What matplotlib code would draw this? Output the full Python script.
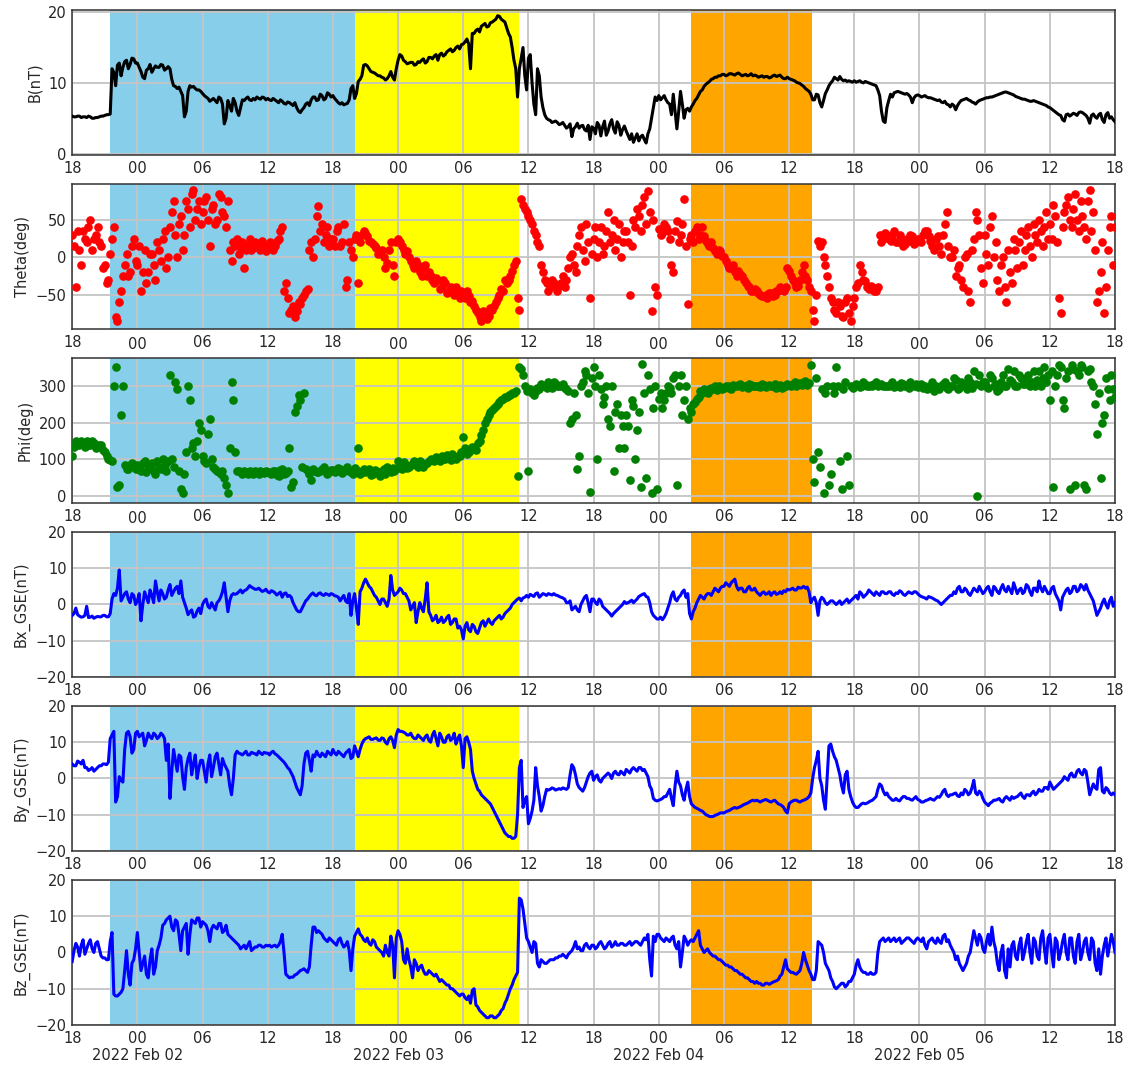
#!/usr/bin/env python3

# Overview of the interplanetary magnetic field, 2022 Feb 01 18:00 - Feb 05 18:00.
# Each series is read at 20 minute steps (the *_on lists, from 18:00) and at
# the 10 minute points in between (the *_off lists, from 18:10).
# Every row below is one 3 hour block of 9 samples.

import matplotlib
matplotlib.use("Agg")
import matplotlib.dates as mdates
import matplotlib.pyplot as plt
import numpy as np
import pandas as pd

START = "2022-02-01 18:00"
END = "2022-02-05 18:00"
STEP = "20min"

# Shaded event intervals
region_starts = ["2022-02-01 21:30", "2022-02-02 20:00", "2022-02-04 03:00"]
region_ends = ["2022-02-02 20:00", "2022-02-03 11:10", "2022-02-04 14:05"]

b_on = [
    5.3, 5.2, 5.3, 5.2, 5.1, 5.2, 5.0, 5.1, 5.3,
    5.4, 5.5, 12.0, 9.6, 12.8, 12.2, 13.2, 12.6, 13.4,
    12.8, 11.6, 10.6, 12.0, 11.5, 12.4, 12.2, 12.5, 12.0,
    12.0, 9.6, 9.2, 8.8, 5.2, 8.8, 9.4, 9.2, 9.0,
    8.5, 8.0, 7.4, 7.8, 7.2, 7.8, 4.2, 7.5, 6.0,
    7.2, 5.4, 7.6, 7.8, 7.6, 7.8, 8.0, 7.7, 7.9,
    7.8, 7.5, 7.6, 7.2, 7.4, 7.0, 7.2, 6.8, 6.5,
    5.8, 6.5, 7.2, 7.6, 8.0, 7.6, 8.2, 7.8, 8.4,
    8.2, 7.5, 7.0, 6.9, 7.1, 9.2, 7.8, 10.2, 11.0,
    12.6, 12.0, 11.5, 11.2, 11.0, 10.7, 10.6, 11.6, 10.4,
    13.2, 13.8, 13.0, 12.8, 12.9, 12.6, 12.9, 13.4, 13.0,
    13.6, 13.8, 13.2, 14.2, 14.0, 14.6, 14.4, 15.0, 14.8,
    15.5, 16.2, 12.0, 17.0, 17.6, 18.0, 18.4, 18.0, 18.6,
    19.0, 19.4, 18.8, 17.8, 16.5, 13.2, 8.0, 13.5, 11.0,
    13.5, 10.0, 5.5, 11.0, 6.5, 5.0, 4.7, 4.5, 4.4,
    4.2, 4.0, 3.8, 2.4, 3.8, 3.6, 4.0, 3.2, 2.0,
    3.6, 4.4, 2.5, 4.6, 3.2, 4.8, 2.9, 4.0, 3.4,
    3.2, 2.0, 1.6, 2.8, 2.4, 2.0, 2.8, 5.0, 8.0,
    8.2, 7.9, 7.6, 7.0, 8.4, 3.5, 8.8, 5.0, 6.4,
    6.6, 7.5, 8.3, 9.0, 9.8, 10.2, 10.6, 10.8, 11.0,
    11.2, 11.1, 11.3, 11.1, 11.4, 11.0, 11.2, 11.1, 11.0,
    11.0, 10.9, 10.8, 10.9, 10.8, 11.1, 11.0, 10.8, 10.6,
    10.6, 10.4, 10.1, 9.9, 9.5, 9.0, 8.4, 7.6, 8.3,
    6.6, 8.5, 9.6, 10.3, 10.6, 10.9, 10.3, 10.2, 10.2,
    10.3, 10.2, 10.1, 10.2, 10.0, 9.8, 9.6, 8.2, 4.6,
    6.5, 8.4, 8.6, 8.8, 8.6, 8.4, 8.3, 7.2, 8.2,
    8.2, 8.1, 8.0, 7.9, 7.7, 7.5, 7.3, 7.4, 6.9,
    7.0, 6.2, 7.2, 7.6, 7.8, 7.5, 7.2, 7.3, 7.6,
    7.8, 7.9, 8.0, 8.2, 8.4, 8.6, 8.7, 8.5, 8.3,
    8.0, 7.8, 7.7, 7.5, 7.4, 7.4, 7.2, 7.0, 6.8,
    6.5, 6.1, 5.7, 5.4, 4.6, 5.6, 5.5, 5.6, 5.8,
    5.8, 5.4, 4.3, 5.6, 5.0, 5.7, 4.4, 5.8, 5.2,
    4.5,
]
b_off = [
    5.2, 5.3, 5.1, 5.2, 5.3, 5.0, 5.1, 5.2, 5.3,
    5.5, 5.6, 11.5, 12.5, 11.0, 13.0, 12.0, 13.5, 12.8,
    12.2, 10.8, 11.8, 12.6, 12.0, 12.2, 12.6, 11.8, 12.3,
    10.5, 9.5, 9.4, 8.2, 6.0, 9.6, 9.5, 9.0, 8.8,
    8.2, 7.8, 7.6, 7.5, 8.0, 7.0, 5.0, 6.8, 7.8,
    6.0, 6.5, 7.5, 8.0, 7.5, 7.6, 7.8, 8.0, 7.6,
    7.6, 7.8, 7.4, 7.6, 7.1, 7.3, 7.0, 7.2, 6.0,
    6.2, 7.0, 6.8, 8.0, 7.5, 8.4, 7.6, 8.6, 8.0,
    7.8, 7.2, 7.2, 7.0, 7.6, 9.6, 8.5, 10.5, 12.5,
    12.4, 11.6, 11.4, 11.0, 10.8, 10.4, 11.0, 10.8, 12.0,
    14.0, 13.2, 12.7, 12.9, 12.5, 13.0, 13.2, 12.8, 13.6,
    13.4, 14.0, 14.0, 13.8, 14.4, 14.8, 14.6, 15.2, 15.4,
    15.8, 15.5, 17.0, 17.4, 17.2, 18.2, 17.9, 18.5, 18.8,
    19.5, 19.0, 18.6, 17.0, 15.0, 12.0, 12.0, 15.0, 9.0,
    14.0, 7.0, 12.0, 8.0, 5.5, 4.8, 4.4, 4.6, 4.1,
    4.4, 3.6, 4.2, 3.5, 4.3, 3.9, 3.4, 4.0, 3.8,
    2.8, 4.0, 3.8, 2.6, 4.2, 3.5, 4.5, 2.6, 3.9,
    2.6, 2.8, 2.2, 1.8, 2.6, 1.5, 3.5, 6.5, 7.5,
    7.6, 8.2, 7.2, 5.5, 6.0, 6.0, 7.0, 6.2, 6.0,
    7.0, 7.8, 8.8, 9.5, 10.0, 10.5, 10.8, 11.0, 11.2,
    11.0, 11.3, 11.2, 11.3, 11.2, 11.1, 11.0, 11.3, 11.1,
    10.8, 11.0, 10.9, 10.7, 11.0, 10.9, 11.1, 10.6, 10.8,
    10.5, 10.3, 10.0, 9.7, 9.2, 8.8, 7.6, 8.4, 7.2,
    7.5, 9.0, 10.0, 10.8, 10.4, 10.5, 10.4, 10.3, 10.1,
    10.1, 10.3, 10.0, 10.1, 9.9, 9.7, 9.0, 6.0, 4.4,
    7.5, 8.0, 8.7, 8.7, 8.5, 8.5, 8.0, 7.9, 8.3,
    8.0, 8.2, 7.9, 7.8, 7.6, 7.6, 7.2, 7.0, 6.6,
    6.8, 6.8, 7.5, 7.7, 7.6, 7.3, 7.0, 7.5, 7.7,
    7.9, 8.0, 8.1, 8.3, 8.5, 8.7, 8.6, 8.4, 8.1,
    7.9, 7.7, 7.6, 7.4, 7.5, 7.3, 7.1, 6.9, 6.6,
    6.3, 5.9, 5.5, 4.8, 5.5, 5.3, 5.7, 5.4, 5.9,
    5.6, 5.0, 5.4, 5.2, 5.5, 4.8, 5.5, 5.0, 4.8,
]

theta_on = [
    30, -40, 10, 35, 20, 50, 25, 40, 15,
    -10, -30, 25, -80, -60, -25, 5, -20, 25,
    -10, -45, 10, -20, 5, -30, 10, 25, -15,
    40, 75, 0, 55, 30, 65, 85, 50, 75,
    60, 80, 15, 70, 50, 80, 55, 75, -5,
    15, 5, 20, 10, 25, 12, 18, 10, 15,
    12, 18, 15, 25, 40, -35, -75, -65, -72,
    -62, -50, -42, 20, 25, 68, 45, 30, 15,
    25, 35, 15, 45, -30, 10, 25, -35, 30,
    32, 22, 18, 12, 8, 0, -8, 20, -25,
    25, 15, 5, 0, -10, -5, -20, -15, -25,
    -25, -35, -30, -40, -35, -45, -45, -40, -55,
    -50, -45, -60, -65, -75, -85, -75, -78, -70,
    -60, -50, -45, -35, -25, -10, -55, 78, 65,
    55, 45, 30, 15, -20, -35, -40, -35, -45,
    -35, -40, -15, 5, -20, 30, 10, 45, -55,
    25, 0, 40, 15, 60, 30, 10, 45, 20,
    35, -50, 50, 65, 35, 80, 88, -72, -40,
    38, 32, 40, 25, -20, 48, 30, 78, -62,
    30, 35, 25, 40, 22, 15, 12, 5, 8,
    0, -10, -15, -20, -18, -25, -35, -40, -45,
    -45, -50, -52, -55, -48, -50, -45, -42, -40,
    -18, -30, -40, -30, -10, -30, -45, -85, 22,
    20, -10, -40, -60, -75, -65, -80, -55, -85,
    -55, -35, -20, -32, -42, -40, -45, 30, 25,
    30, 22, 35, 20, 25, 18, 22, 28, 20,
    25, 30, 35, 22, 10, 28, 5, 45, 15,
    0, -25, -10, -40, 5, -60, 25, 50, -15,
    30, -10, 55, 20, -45, 0, -60, -20, 25,
    -15, 35, 10, 40, 0, 30, 50, 15, 60,
    45, 70, 20, -75, 60, 80, 40, 85, 35,
    55, 25, 90, 60, -60, -20, -75, 10, 55,
    40,
]
theta_off = [
    15, 35, -10, 25, 40, 10, 30, 20, -15,
    -35, 5, 40, -85, -45, -10, -25, 15, -5,
    15, -20, -35, 5, -10, 20, -5, 35, 0,
    60, 30, 45, 10, 75, 40, 90, 65, 45,
    75, 50, 65, 45, 85, 60, 40, 10, 20,
    25, 12, -15, 18, 10, 20, 15, 22, 8,
    20, 10, 22, 35, -45, -55, -70, -80, -60,
    -55, -45, 10, 0, 55, 35, 20, 40, 25,
    15, 40, 20, -40, 20, 0, 30, 20, 35,
    28, 20, 15, 5, 10, -15, 10, -10, 20,
    20, 10, 8, -5, -15, -10, -25, -10, -20,
    -30, -28, -42, -30, -48, -40, -50, -48, -45,
    -55, -52, -58, -70, -80, -72, -82, -68, -65,
    -55, -42, -30, -30, -18, -5, -70, 70, 60,
    50, 35, 20, -10, -30, -45, -30, -40, -38,
    -25, -30, 0, -10, 15, 40, -5, 20, 5,
    40, 20, 5, 35, 20, 50, 25, 0, 35,
    20, 15, 40, 55, 70, 45, 60, 50, -50,
    30, 45, 35, -10, 35, 20, 45, 15, 25,
    20, 40, 30, 28, 18, 20, 8, 10, 2,
    -5, -15, -10, -25, -22, -30, -38, -45, -42,
    -48, -52, -50, -48, -52, -45, -40, -45, -15,
    -25, -35, -38, -20, -25, -40, -70, -50, 15,
    0, -25, -55, -70, -60, -78, -60, -75, -65,
    -40, -10, -30, -40, -38, -45, -40, 20, 32,
    25, 28, 20, 30, 15, 25, 30, 18, 25,
    20, 35, 28, 15, 25, 15, 30, 60, 0,
    10, -15, -30, 0, -45, 10, 60, 30, -35,
    5, 40, 0, -30, -10, -40, 10, -35, 10,
    20, -10, 30, 15, 45, 20, 35, 40, 25,
    25, 55, -55, 40, 70, 50, 65, 50, 75,
    40, 75, 35, 10, -45, 20, -40, 40, -10,
]

phi_on = [
    110, 150, 140, 145, 150, 140, 145, 135, 138,
    120, 100, 95, 350, 30, 300, 75, 85, 80,
    85, 70, 95, 75, 90, 60, 80, 100, 70,
    330, 80, 290, 20, 60, 300, 130, 110, 200,
    110, 90, 210, 80, 70, 60, 50, 10, 310,
    120, 70, 60, 65, 70, 60, 65, 70, 62,
    65, 60, 70, 55, 75, 62, 130, 40, 245,
    260, 280, 70, 45, 70, 65, 75, 70, 65,
    72, 68, 75, 70, 80, 65, 78, 130, 70,
    65, 75, 60, 70, 55, 75, 80, 65, 70,
    95, 75, 85, 80, 90, 85, 95, 80, 90,
    100, 95, 105, 110, 100, 105, 115, 100, 110,
    160, 115, 125, 130, 145, 165, 200, 220, 235,
    245, 255, 265, 270, 275, 280, 55, 345, 300,
    70, 280, 285, 290, 300, 295, 305, 310, 300,
    300, 295, 285, 210, 220, 110, 310, 330, 12,
    350, 100, 290, 270, 210, 300, 230, 130, 190,
    220, 45, 245, 180, 25, 280, 330, 10, 300,
    265, 240, 280, 295, 320, 30, 330, 260, 210,
    230, 255, 270, 280, 285, 290, 292, 288, 295,
    295, 298, 292, 300, 302, 296, 300, 305, 298,
    300, 296, 302, 298, 300, 304, 298, 295, 300,
    302, 305, 300, 308, 310, 302, 355, 40, 120,
    290, 280, 30, 300, 350, 95, 290, 110, 300,
    298, 302, 300, 305, 298, 300, 310, 302, 298,
    300, 305, 296, 302, 308, 300, 295, 302, 305,
    300, 295, 290, 300, 285, 295, 300, 310, 290,
    300, 315, 295, 305, 290, 310, 340, 0, 300,
    310, 295, 320, 305, 290, 330, 300, 315, 340,
    300, 320, 305, 330, 310, 300, 340, 320, 310,
    260, 25, 330, 350, 240, 340, 355, 30, 330,
    350, 20, 345, 300, 170, 50, 220, 290, 330,
    270,
]
phi_off = [
    135, 145, 150, 135, 140, 150, 130, 140, 125,
    110, 98, 300, 25, 220, 85, 75, 90, 75,
    75, 90, 65, 85, 70, 95, 75, 85, 95,
    100, 310, 70, 10, 120, 260, 145, 150, 180,
    95, 170, 100, 75, 65, 70, 30, 130, 260,
    70, 65, 70, 60, 62, 68, 60, 66, 70,
    62, 68, 58, 72, 60, 70, 25, 230, 275,
    80, 75, 60, 75, 65, 70, 80, 60, 72,
    65, 78, 62, 75, 70, 60, 72, 60, 75,
    70, 58, 72, 65, 70, 60, 72, 78, 75,
    80, 92, 78, 85, 95, 80, 90, 88, 95,
    98, 108, 95, 100, 112, 98, 108, 110, 120,
    130, 120, 135, 125, 150, 180, 210, 230, 240,
    250, 260, 270, 275, 280, 285, 350, 330, 285,
    290, 275, 295, 305, 300, 310, 295, 305, 300,
    305, 290, 200, 280, 75, 300, 340, 280, 320,
    300, 330, 250, 300, 190, 70, 250, 220, 130,
    190, 260, 100, 230, 360, 50, 290, 240, 20,
    280, 260, 300, 280, 330, 300, 220, 300, 240,
    250, 265, 285, 290, 280, 295, 298, 300, 292,
    300, 295, 302, 298, 305, 300, 295, 302, 300,
    298, 305, 296, 302, 298, 295, 302, 300, 305,
    300, 310, 305, 302, 312, 308, 100, 320, 80,
    10, 300, 60, 280, 300, 20, 310, 30, 295,
    305, 296, 310, 300, 302, 305, 298, 305, 300,
    298, 310, 300, 296, 305, 298, 310, 300, 296,
    305, 300, 295, 310, 300, 290, 305, 295, 300,
    320, 290, 310, 300, 320, 295, 305, 330, 310,
    300, 330, 300, 285, 310, 300, 345, 310, 300,
    330, 305, 320, 300, 340, 315, 300, 350, 330,
    340, 300, 355, 260, 320, 20, 345, 340, 355,
    30, 340, 310, 250, 280, 200, 320, 260, 290,
]

bx_on = [
    -3.0, -1.0, -3.2, -3.4, -0.5, -3.5, -3.8, -3.3, -3.4,
    -3.0, -3.4, 1.5, 2.5, 9.5, 2.0, 3.5, 0.5, 2.5,
    1.0, -4.5, 3.5, 0.5, 2.5, 6.5, 1.0, 3.0, 2.0,
    5.5, 3.5, 5.0, 6.5, 0.5, -2.8, -1.5, -3.2, -1.0,
    0.0, 1.5, -1.0, -0.5, 0.5, 2.0, 6.0, -2.0, 2.5,
    2.8, 3.5, 3.2, 4.0, 5.2, 4.5, 4.2, 4.0, 3.8,
    3.5, 3.8, 3.2, 3.0, 2.0, 3.2, 2.5, 0.5, -1.5,
    -2.0, 0.0, 1.5, 2.8, 2.6, 3.0, 2.7, 3.0, 2.5,
    2.8, 2.3, 1.0, 2.5, 0.5, -3.0, 3.0, -5.5, 4.5,
    7.0, 5.0, 3.5, 2.0, 0.0, 1.5, -0.5, 8.0, 2.5,
    3.5, 4.0, 3.0, 1.0, -0.5, -5.0, 0.5, -2.0, 6.0,
    -3.0, -4.0, -5.0, -3.5, -4.5, -3.0, -5.0, -4.0, -6.0,
    -9.5, -5.0, -7.5, -6.0, -8.0, -5.0, -6.0, -4.0, -5.5,
    -4.0, -3.0, -3.5, -2.0, -1.0, 0.5, 1.5, 1.0, 2.0,
    2.0, 2.5, 3.0, 2.0, 3.0, 2.5, 2.8, 3.0, 2.5,
    2.0, 1.5, 0.5, -1.5, -0.5, -2.0, 1.0, 2.5, -2.0,
    1.5, 0.0, 1.0, -1.0, -2.0, -3.2, -2.0, -1.0, 0.0,
    0.3, 0.8, 0.5, 1.5, 2.5, 3.0, 2.0, -2.0, -3.5,
    -4.0, -4.2, -2.5, 0.5, 3.5, 1.0, 2.5, 4.0, 3.0,
    -4.0, -1.0, 1.5, 2.0, 2.5, 3.0, 3.5, 4.0, 4.5,
    5.0, 5.5, 6.0, 7.0, 4.0, 4.5, 3.5, 5.0, 4.0,
    3.5, 2.5, 3.5, 3.0, 2.5, 3.5, 3.0, 3.0, 3.5,
    4.0, 4.5, 4.0, 4.5, 5.0, 4.8, 0.5, 2.0, -3.0,
    2.0, 0.5, 0.5, 1.0, 0.0, 1.0, 0.5, 1.5, 1.0,
    2.0, 1.5, 3.0, 2.5, 4.0, 3.0, 3.5, 2.5, 3.5,
    3.0, 3.5, 2.5, 3.0, 3.5, 2.5, 3.5, 3.0, 3.5,
    2.5, 2.0, 1.5, 2.0, 1.5, 1.0, 0.0, 1.0, 2.0,
    2.5, 3.0, 5.0, 3.5, 4.0, 2.5, 4.5, 3.5, 4.0,
    3.5, 5.0, 2.5, 4.5, 3.0, 5.5, 3.5, 4.0, 6.0,
    3.0, 4.5, 3.5, 5.0, 2.5, 4.5, 6.5, 3.5, 4.0,
    3.0, 5.0, 2.0, -1.5, 3.0, 4.5, 3.5, 5.0, 4.0,
    5.0, 5.5, 3.0, 1.0, -3.0, -1.0, 1.5, -1.0, 2.0,
    0.5,
]
bx_off = [
    -2.5, -2.8, -3.5, -3.0, -3.6, -3.2, -3.5, -3.4, -3.0,
    -3.4, -2.5, 3.0, 4.5, 1.0, 3.0, 1.5, 3.0, 0.0,
    3.0, 0.0, 2.0, 4.0, 0.5, 3.5, 4.0, 1.5, 4.0,
    2.5, 4.5, 3.0, 2.0, -1.0, -2.0, -3.5, -1.8, -2.5,
    1.0, -0.5, 0.5, -1.5, 1.0, 3.5, 2.0, 1.0, 3.0,
    3.0, 4.0, 3.8, 4.5, 4.8, 4.2, 4.5, 3.6, 4.2,
    3.2, 3.6, 2.6, 3.4, 3.0, 2.2, 2.0, -0.5, -2.0,
    -1.0, 1.0, 2.2, 3.2, 2.4, 3.2, 2.5, 2.8, 3.0,
    2.4, 2.0, 1.8, 1.0, 3.0, 1.0, -1.0, 3.5, 6.0,
    6.0, 4.5, 2.5, 1.0, 1.5, 0.5, 1.5, 4.0, 3.0,
    4.5, 3.0, 2.0, -1.5, 0.5, -2.0, -1.0, 1.5, -2.0,
    -4.5, -3.0, -4.5, -5.0, -3.5, -5.5, -4.0, -6.5, -7.0,
    -6.0, -7.0, -5.5, -7.5, -6.5, -4.5, -5.0, -5.0, -4.5,
    -3.5, -4.0, -2.5, -1.5, 0.0, 1.0, 1.8, 1.8, 2.5,
    2.8, 2.2, 3.2, 2.5, 2.8, 3.0, 2.6, 2.6, 2.2,
    1.8, 0.5, 1.0, -1.0, -1.5, 0.0, 2.0, 0.5, 1.5,
    0.5, 1.5, -0.5, -1.5, -2.5, -2.5, -1.5, -0.5, 0.8,
    0.5, 1.2, 1.0, 2.2, 2.8, 2.2, 0.5, -3.0, -4.0,
    -3.5, -3.5, -1.0, 2.5, 1.5, 2.0, 3.5, 2.0, -2.5,
    -2.0, 0.5, 2.5, 1.5, 3.0, 2.5, 4.5, 3.5, 5.0,
    6.0, 5.0, 6.5, 5.0, 4.5, 3.5, 4.5, 4.0, 4.5,
    3.0, 3.2, 2.8, 3.5, 3.2, 2.8, 3.5, 3.8, 4.2,
    4.2, 4.0, 4.8, 4.6, 4.5, 3.5, 1.5, 0.5, 1.0,
    1.5, 0.0, 1.0, 0.5, 0.5, 0.0, 1.0, 0.5, 1.5,
    2.5, 3.5, 2.0, 3.0, 3.5, 2.5, 3.0, 3.5, 3.0,
    3.5, 2.8, 3.2, 3.8, 2.8, 3.0, 3.2, 3.5, 3.0,
    2.2, 1.8, 2.2, 1.8, 1.2, 0.5, 0.5, 1.5, 2.5,
    3.5, 4.5, 3.5, 4.5, 3.0, 3.5, 4.0, 5.0, 3.0,
    4.5, 3.5, 5.0, 3.5, 4.5, 4.0, 5.0, 3.0, 4.5,
    4.0, 3.0, 5.5, 3.5, 4.5, 3.5, 4.5, 5.0, 3.0,
    4.5, 3.0, 1.0, 2.0, 4.0, 3.0, 5.0, 3.5, 5.5,
    4.0, 4.0, 2.0, -1.0, -2.0, 0.5, 0.0, 1.0, -0.5,
]

by_on = [
    4.0, 3.5, 4.5, 5.0, 3.0, 2.5, 2.0, 3.0, 3.5,
    4.0, 4.5, 12.0, -6.5, 0.5, -1.0, 12.5, 11.5, 8.0,
    13.0, 12.0, 9.0, 12.5, 11.0, 12.0, 11.5, 12.0, 5.0,
    -5.5, 8.0, 2.0, 6.0, -3.0, 5.5, 1.0, 6.5, 3.0,
    5.0, -1.0, 6.5, 3.0, 7.0, 1.0, 4.0, 2.0, -4.5,
    6.5, 7.0, 6.5, 7.5, 6.5, 7.0, 6.5, 7.0, 7.2,
    7.0, 7.2, 6.8, 6.0, 5.0, 3.8, 2.5, 0.5, -2.5,
    -4.5, 4.0, 7.5, 2.0, 6.0, 6.5, 7.0, 6.0, 7.0,
    8.0, 6.5, 7.0, 6.0, 7.5, 5.5, 9.0, 6.0, 9.5,
    11.0, 11.5, 10.8, 11.2, 10.5, 11.0, 9.5, 11.5, 8.5,
    13.5, 13.0, 12.5, 12.0, 11.5, 11.0, 11.5, 10.5, 12.0,
    10.0, 13.0, 9.0, 11.5, 10.0, 12.0, 11.0, 9.5, 12.0,
    3.0, 11.5, 8.0, 0.0, -3.0, -4.5, -5.5, -6.5, -8.0,
    -10.0, -12.0, -14.0, -15.5, -16.0, -16.5, -10.0, 5.0, -6.0,
    -12.5, -9.0, 3.0, -5.0, -7.5, -3.0, -3.0, -2.8, -3.0,
    -3.0, -2.8, -2.5, 3.8, 1.0, -2.5, -3.5, -1.0, 1.5,
    -0.5, 1.0, -1.0, 0.5, 1.5, 0.0, 2.0, 1.0, 1.5,
    2.5, 1.5, 3.0, 2.0, 3.0, 2.5, 0.5, -3.0, -6.0,
    -6.0, -5.5, -5.0, -3.0, -7.5, 2.0, -2.0, -6.0, -1.0,
    -7.0, -8.0, -8.5, -9.0, -10.0, -10.5, -10.5, -10.0, -9.5,
    -9.5, -9.0, -8.5, -8.0, -8.0, -7.5, -7.0, -6.5, -6.0,
    -6.0, -6.5, -6.0, -6.0, -6.5, -6.0, -7.0, -7.5, -9.0,
    -7.0, -6.2, -6.0, -6.5, -6.0, -5.5, -4.0, 3.0, 7.5,
    -2.0, -8.5, 9.0, 7.5, 5.0, 1.0, -4.0, 2.0, -5.0,
    -7.5, -8.0, -7.0, -7.0, -6.5, -6.0, -5.0, -1.5, -3.5,
    -4.0, -5.5, -6.0, -6.0, -5.5, -5.0, -5.5, -6.0, -5.0,
    -6.0, -6.5, -6.0, -5.5, -6.0, -5.0, -4.5, -3.0, -5.0,
    -4.5, -4.0, -5.0, -4.5, -3.5, -4.0, -0.5, -4.5, -4.0,
    -6.5, -7.5, -6.5, -6.0, -5.5, -6.5, -5.0, -6.0, -5.5,
    -5.0, -4.0, -5.5, -4.5, -4.0, -4.5, -3.0, -3.5, -2.5,
    -1.0, -3.0, -2.0, -1.0, 0.5, -0.5, 1.5, 0.5, 2.5,
    1.0, 2.0, -4.5, -1.5, -3.0, 3.0, -4.0, -3.0, -4.5,
    -4.5,
]
by_off = [
    3.5, 4.8, 4.0, 3.0, 2.2, 3.0, 2.5, 3.5, 4.0,
    3.8, 11.0, 13.0, -5.0, -0.5, 8.0, 13.0, 7.0, 12.5,
    11.5, 12.5, 10.5, 11.5, 12.5, 11.0, 12.5, 11.0, 9.5,
    2.0, 5.0, 6.5, 0.5, 3.0, 7.0, 4.0, 0.0, 5.0,
    2.0, 4.0, 0.5, 6.0, 4.0, 5.5, 3.0, -2.0, 0.0,
    7.5, 6.8, 7.0, 6.5, 7.2, 6.8, 7.5, 6.6, 7.0,
    6.5, 7.5, 6.5, 5.5, 4.5, 3.0, 1.5, -1.0, -3.5,
    -2.0, 7.0, 5.0, 6.5, 7.5, 6.0, 6.5, 7.5, 6.5,
    7.0, 7.5, 6.5, 7.0, 8.0, 6.0, 7.5, 8.0, 10.5,
    11.2, 10.8, 11.0, 10.6, 11.2, 10.0, 11.0, 10.5, 12.0,
    13.0, 12.8, 12.0, 12.5, 11.0, 12.0, 11.0, 11.5, 10.5,
    12.0, 11.0, 12.5, 10.0, 11.5, 10.5, 12.5, 11.0, 9.0,
    11.0, 10.0, 2.0, -1.5, -3.5, -5.0, -6.0, -7.0, -9.0,
    -11.0, -13.0, -15.0, -16.0, -16.5, -16.0, 3.0, -8.0, -5.0,
    -11.0, -6.0, -2.0, -9.0, -5.0, -3.2, -2.6, -3.2, -2.8,
    -2.6, -3.0, 1.0, 3.0, -1.5, -3.0, -2.5, 0.5, 2.0,
    0.5, -0.5, 0.0, 1.0, 1.0, 1.5, 1.2, 2.0, 1.0,
    2.0, 2.5, 2.5, 3.0, 2.2, 1.5, -2.0, -5.5, -6.2,
    -5.8, -5.0, -4.0, -5.5, -2.0, -1.0, -4.5, -3.0, -5.0,
    -7.5, -8.2, -8.8, -9.5, -10.2, -10.5, -10.2, -9.8, -9.5,
    -9.2, -8.8, -8.2, -8.2, -7.8, -7.2, -6.8, -6.2, -6.2,
    -6.2, -6.2, -5.8, -6.3, -6.2, -6.5, -7.2, -8.0, -9.5,
    -6.5, -6.0, -6.3, -6.2, -5.8, -5.0, 0.0, 5.0, 0.0,
    -6.0, 0.0, 9.5, 6.0, 3.0, -2.0, 1.0, -3.0, -6.5,
    -8.0, -7.5, -6.8, -6.8, -6.2, -5.5, -3.0, -2.0, -4.5,
    -5.0, -6.0, -5.5, -6.2, -5.0, -5.5, -5.8, -5.5, -5.8,
    -6.5, -6.2, -5.8, -5.8, -5.5, -5.2, -3.5, -4.5, -4.5,
    -4.2, -4.8, -4.0, -3.0, -4.5, -2.5, -4.0, -3.5, -5.5,
    -7.0, -6.8, -6.0, -5.8, -6.2, -5.5, -5.5, -5.0, -5.2,
    -4.5, -5.0, -4.5, -4.8, -3.5, -4.0, -3.5, -2.5, -3.0,
    -2.0, -2.5, -1.5, -0.5, 0.0, 1.0, 0.5, 2.0, 1.5,
    2.5, -1.0, -3.0, -2.5, 2.5, -3.5, -2.5, -4.0, -4.0,
]

bz_on = [
    -2.5, 2.5, -1.0, 3.5, 1.0, 3.5, 0.0, 3.0, -1.0,
    -1.5, -2.0, 5.5, -12.0, -11.5, -10.0, 0.5, -9.0, -2.0,
    5.5, -5.0, -1.0, -7.0, 1.0, -4.0, 2.0, 7.5, 9.0,
    10.0, 6.0, 8.5, 0.5, 7.0, -0.5, 9.0, 8.0, 9.5,
    8.5, 7.5, 3.0, 7.5, 6.5, 8.0, 6.0, 5.0, 4.0,
    3.0, 2.0, 1.5, 1.0, 3.0, 1.0, 1.5, 2.0, 1.5,
    1.8, 1.5, 2.0, 2.0, 5.0, -6.0, -7.0, -6.8, -6.0,
    -5.0, -4.5, -5.5, 2.0, 7.0, 6.0, 5.0, 3.5, 4.0,
    3.0, 2.0, 4.0, 1.5, 3.0, -5.0, 4.5, 6.5, 4.5,
    3.0, 2.5, 3.5, 1.5, 0.5, -1.0, 0.0, 4.5, -7.0,
    6.0, 3.0, -3.0, -2.0, -7.0, -3.0, -4.0, -5.0, -6.0,
    -5.5, -6.5, -7.0, -7.5, -8.5, -9.0, -10.0, -11.0, -12.0,
    -11.5, -13.0, -14.0, -10.0, -15.0, -16.5, -17.5, -18.0, -17.5,
    -18.0, -17.0, -15.5, -13.0, -10.0, -7.5, -5.5, 14.5, 8.0,
    3.0, 0.0, 2.5, -4.0, -2.5, -3.0, -2.0, -2.0, -1.5,
    -1.0, -1.0, -0.5, 0.5, 3.0, 1.5, 0.5, 2.5, 1.0,
    2.0, 1.5, 3.0, 1.0, 2.5, 1.5, 3.0, 2.0, 2.5,
    2.0, 3.0, 2.5, 3.0, 2.0, 4.0, 5.0, -6.5, 3.0,
    5.0, 3.5, 4.0, 3.0, 4.5, 1.0, -4.0, 4.5, 2.0,
    3.5, 4.0, 6.0, 1.0, 0.5, 0.0, -1.0, -1.5, -2.0,
    -3.0, -3.5, -4.0, -5.0, -5.5, -6.0, -7.0, -7.5, -8.0,
    -8.0, -8.5, -9.0, -8.5, -8.5, -8.0, -7.5, -6.0, -2.0,
    -5.0, -5.5, -6.0, -5.0, 0.0, -3.5, -6.0, -7.5, 3.0,
    2.0, -3.0, -5.0, -8.0, -10.0, -9.0, -8.5, -9.0, -8.0,
    -6.0, -2.0, -5.0, -5.5, -6.0, -6.0, -5.5, 3.0, 4.0,
    3.5, 3.0, 4.0, 3.5, 2.5, 3.5, 4.0, 3.0, 3.5,
    3.5, 4.0, 1.0, 3.5, 3.0, 4.0, 2.5, 5.0, 3.5,
    1.0, -2.0, -3.0, -5.0, -3.0, 0.0, 6.0, 2.0, 4.0,
    0.0, 5.0, 7.0, 1.0, -5.0, 2.0, -7.0, -4.0, 3.0,
    -2.0, 4.0, 0.0, 5.0, -3.0, 3.0, -2.0, 6.0, -3.0,
    5.0, -4.0, 3.0, 0.0, 5.0, -2.0, 4.0, -3.0, 5.0,
    0.0, 4.0, -2.0, 3.0, -5.0, -6.0, 2.0, -1.0, 5.0,
    0.0,
]
bz_off = [
    0.5, 1.5, 2.0, -0.5, 2.5, 1.0, 2.5, 1.0, -1.5,
    -2.0, 3.0, -11.5, -12.0, -11.0, -5.0, -6.0, -3.0, 1.0,
    0.0, -3.0, -6.0, -2.0, -6.0, 0.5, 4.0, 8.0, 9.5,
    7.0, 9.0, 5.0, 6.0, 8.0, 5.0, 8.5, 9.5, 7.0,
    8.0, 6.0, 6.5, 7.0, 8.0, 5.5, 7.5, 4.5, 3.5,
    2.5, 1.0, 2.0, 2.0, 0.5, 1.5, 2.0, 1.5, 2.0,
    2.0, 1.8, 1.5, 3.0, 0.0, -6.5, -6.8, -6.2, -5.5,
    -4.8, -5.0, -4.0, 7.0, 5.5, 5.5, 4.0, 3.0, 3.5,
    2.5, 3.5, 2.5, 2.0, 0.5, 1.0, 5.5, 5.0, 3.5,
    4.0, 2.0, 3.0, 1.0, 0.0, 2.0, -1.0, 2.0, 4.0,
    5.0, -2.0, 1.0, -4.0, -2.0, -5.0, -3.5, -6.0, -5.0,
    -6.0, -6.0, -8.0, -8.0, -9.0, -10.0, -10.5, -11.5, -11.5,
    -12.5, -12.0, -10.5, -14.5, -16.0, -17.0, -18.0, -17.5, -18.0,
    -17.5, -16.0, -14.0, -11.5, -9.0, -6.5, 15.0, 12.0, 4.0,
    1.5, 3.0, -3.0, -2.0, -3.0, -2.5, -2.0, -1.5, -1.0,
    -0.5, -1.5, 0.0, 1.5, 1.0, 0.5, 2.0, 1.5, 2.0,
    1.0, 2.5, 2.0, 1.5, 3.0, 2.0, 2.0, 2.5, 2.0,
    2.5, 2.0, 3.0, 2.5, 3.0, 3.5, -2.0, 4.5, 5.0,
    4.0, 3.0, 3.5, 4.0, 2.0, 3.0, 0.0, 3.5, 3.0,
    3.0, 5.0, 2.0, 0.0, 1.0, -0.5, -1.0, -2.0, -2.5,
    -3.5, -4.0, -4.5, -5.0, -6.0, -6.5, -7.0, -8.0, -8.5,
    -8.5, -9.0, -8.5, -8.8, -8.2, -7.8, -6.5, -4.0, -4.5,
    -5.5, -5.8, -5.5, -3.0, -2.0, -5.0, -7.5, -5.0, 2.5,
    0.0, -4.0, -7.0, -9.5, -9.5, -8.5, -9.5, -8.0, -7.0,
    -3.5, -4.0, -5.5, -6.0, -5.5, -6.0, 0.0, 3.5, 3.0,
    4.0, 3.5, 3.0, 4.0, 3.0, 4.0, 3.5, 2.5, 4.0,
    3.0, 2.0, 3.0, 4.0, 2.5, 3.0, 4.5, 3.0, 2.0,
    0.0, -1.0, -4.0, -4.0, -1.0, 3.0, 4.0, 5.0, 1.0,
    3.0, 2.0, 3.0, -3.0, 0.0, -5.0, 1.0, 2.0, -1.0,
    2.0, -2.0, 3.0, 0.0, 4.0, -1.0, 4.0, 1.0, 4.0,
    0.0, 4.0, -2.0, 3.0, 0.0, 4.0, -1.0, 3.0, -2.0,
    3.0, 0.0, 4.0, -3.0, 1.0, -1.0, 4.0, 2.0, 3.0,
]


# Put the on-step and off-step readings of a series into one time order.
def merge(t_on, t_off, on_values, off_values):
    assert len(on_values) == len(t_on), len(on_values)
    assert len(off_values) == len(t_off), len(off_values)
    t = np.concatenate([t_on, t_off])
    v = np.concatenate([on_values, off_values]).astype(float)
    order = np.argsort(t)
    return t[order], v[order]


# Dress one panel: shading, limits, ticks and grid.
def style_axis(ax, t0, t1, ylim, yticks, ylabel, show_date, major_pad):
    colors = ["skyblue", "yellow", "orange"]
    for start, end, color in zip(region_starts, region_ends, colors):
        ax.axvspan(mdates.date2num(pd.Timestamp(start)),
                   mdates.date2num(pd.Timestamp(end)),
                   color=color, zorder=1, lw=0)

    ax.set_xlim(t0, t1)
    ax.set_ylim(*ylim)
    ax.set_yticks(yticks)
    ax.set_ylabel(ylabel, fontsize=10.5, color="#262626")

    ax.xaxis.set_major_locator(mdates.DayLocator())
    ax.xaxis.set_minor_locator(mdates.HourLocator(byhour=[6, 12, 18]))
    if show_date:
        ax.xaxis.set_major_formatter(mdates.DateFormatter("%H\n%Y %b %d"))
    else:
        ax.xaxis.set_major_formatter(mdates.DateFormatter("%H"))
    ax.xaxis.set_minor_formatter(mdates.DateFormatter("%H"))

    ax.set_axisbelow("line")
    ax.grid(True, which="both", axis="x", color="#c4c4c4", lw=1.3)
    ax.grid(True, which="major", axis="y", color="#c4c4c4", lw=1.3)
    ax.tick_params(which="both", length=0, pad=4, labelsize=10.5,
                   colors="#262626")
    ax.tick_params(axis="x", which="major", pad=major_pad)
    for spine in ax.spines.values():
        spine.set_color("#333333")
        spine.set_linewidth(1.1)


def main():
    times = pd.date_range(START, END, freq=STEP)
    t_on = mdates.date2num(times.to_pydatetime())
    t_off = mdates.date2num(
        (times[:-1] + pd.Timedelta(minutes=10)).to_pydatetime())
    t0, t1 = t_on[0], t_on[-1]

    fig, axes = plt.subplots(6, 1, figsize=(11.28, 10.68), dpi=100)
    fig.subplots_adjust(left=0.064, right=0.9885, top=0.9906,
                        bottom=0.0403, hspace=0.2)

    t, v = merge(t_on, t_off, b_on, b_off)
    axes[0].plot(t, v, color="black", lw=2.2, zorder=3)
    style_axis(axes[0], t0, t1, (-0.2, 20.3), [0, 10, 20], "B(nT)",
               False, 4)

    t, v = merge(t_on, t_off, theta_on, theta_off)
    axes[1].plot(t, v, "o", color="red", ms=5.2, zorder=3)
    style_axis(axes[1], t0, t1, (-96, 98), [-50, 0, 50], "Theta(deg)",
               False, 6)

    t, v = merge(t_on, t_off, phi_on, phi_off)
    axes[2].plot(t, v, "o", color="green", ms=5.2, zorder=3)
    style_axis(axes[2], t0, t1, (-18, 375), [0, 100, 200, 300], "Phi(deg)",
               False, 6)

    components = [(bx_on, bx_off, "Bx_GSE(nT)"),
                  (by_on, by_off, "By_GSE(nT)"),
                  (bz_on, bz_off, "Bz_GSE(nT)")]
    for idx, (on_values, off_values, label) in enumerate(components):
        ax = axes[3 + idx]
        t, v = merge(t_on, t_off, on_values, off_values)
        ax.plot(t, v, color="blue", lw=2.2, zorder=3)
        style_axis(ax, t0, t1, (-20, 20), [-20, -10, 0, 10, 20], label,
                   idx == 2, 4)

    fig.savefig("out.png", dpi=100, facecolor="white")


if __name__ == "__main__":
    main()
